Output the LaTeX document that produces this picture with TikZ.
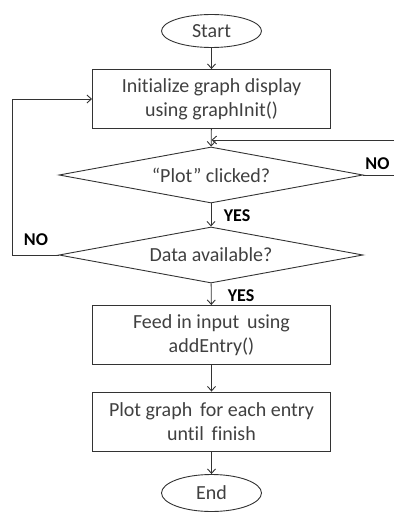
\documentclass[tikz,border=0pt]{standalone}
\usepackage{fontspec}
\setmainfont[Ligatures=NoCommon]{Carlito}
\usetikzlibrary{shapes.geometric,arrows.meta}
\begin{document}
\begin{tikzpicture}[x=1pt,y=-1pt,
  line width=0.9pt,
  every node/.style={text=black!75},
  flow/.style={draw=black!80, line width=0.9pt, -{Straight Barb[length=4.5pt,width=8pt]}},
  edge/.style={draw=black!80, line width=0.9pt},
  term/.style={ellipse, draw=black!80, minimum width=100pt, inner sep=0pt, font=\fontsize{20}{24}\selectfont},
  proc/.style={rectangle, draw=black!80, minimum width=238pt, minimum height=59pt, align=center, inner sep=0pt, font=\fontsize{20}{24}\selectfont},
  dec/.style={diamond, draw=black!80, aspect=5.4, minimum width=304pt, minimum height=56pt, inner sep=0pt, font=\fontsize{20}{24}\selectfont},
  lbl/.style={font=\bfseries\fontsize{18}{20}\selectfont, text=black, inner sep=0pt}]
\useasboundingbox (0,0) rectangle (394,513);

\node[term, minimum height=33pt] (start) at (211.5,31) {Start};
\node[proc] (init) at (211.5,99) {Initialize graph display\\using graphInit()};
\node[dec] (plot) at (211,175) {“Plot” clicked?};
\node[dec] (data) at (211,255) {Data available?};
\node[proc] (feed) at (211.5,335) {Feed in input\, using\\addEntry()};
\node[proc] (draw) at (211.5,421.5) {Plot graph\, for each entry\\until\, finish};
\node[term, minimum height=37pt] (end) at (211.5,493) {End};

% main flow
\draw[flow] (start) -- (init);
\draw[flow] (init) -- (plot);
\draw[flow] (plot) -- (data);
\draw[flow] (data) -- (feed);
\draw[flow] (feed) -- (draw);
\draw[flow] (draw) -- (end);

% "Plot" not clicked: loop back from the right
\coordinate (rout) at (394,175);
\coordinate (rin) at (394,140);
\coordinate (join) at (init.south |- rin);
\draw[edge] (plot.east) -- (rout);
\draw[flow] (rin) -- (join);

% no data: back to initialisation
\coordinate (lft) at (12,255);
\draw[flow] (data.west) -- (lft) |- (init.west);

% branch labels
\node[lbl] (noR) at (377.5,164) {NO};
\node[lbl] (yes1) at (237,216) {YES};
\node[lbl] (noL) at (36,240) {NO};
\node[lbl] (yes2) at (241,296) {YES};
\end{tikzpicture}
\end{document}
